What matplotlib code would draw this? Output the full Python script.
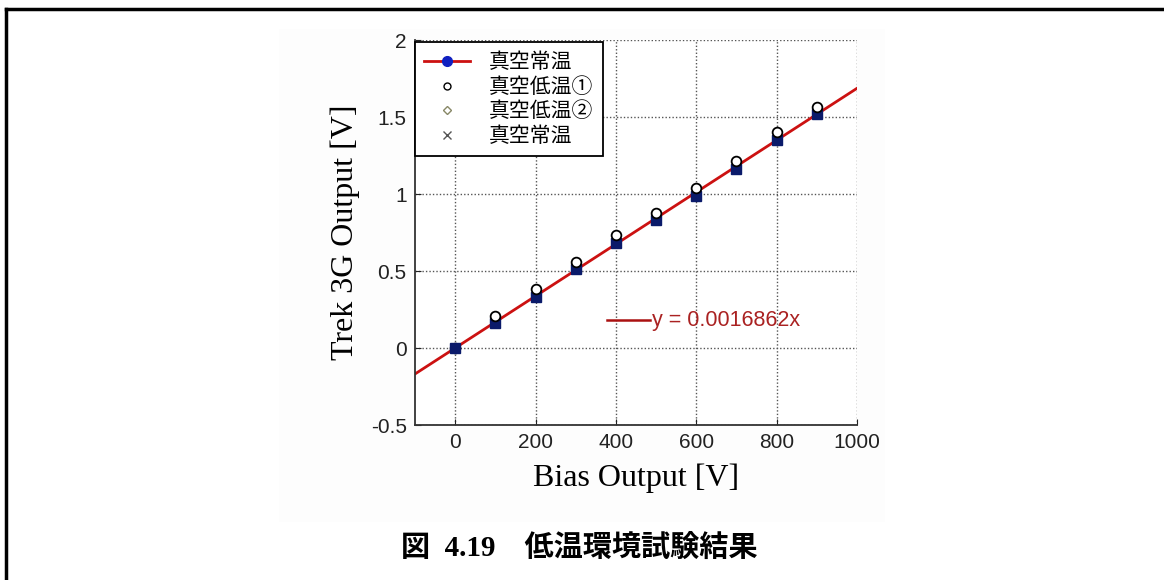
import numpy as np
import matplotlib.pyplot as plt
from matplotlib.lines import Line2D
from matplotlib.patches import Rectangle

plt.rcParams['font.family'] = ['Liberation Sans', 'Noto Sans CJK JP']

# bias setting [V]
bias = [0, 100, 200, 300, 400, 500, 600, 700, 800, 900]
# Trek 3G output [V]
room_vac = [0, 0.16, 0.33, 0.51, 0.68, 0.83, 0.99, 1.16, 1.35, 1.52]
cold_1 = [0, 0.205, 0.385, 0.56, 0.735, 0.88, 1.04, 1.215, 1.40, 1.565]
cold_2 = [0, 0.165, 0.335, 0.515, 0.685, 0.835, 0.99, 1.165, 1.355, 1.525]
room_vac_after = [0, 0.16, 0.33, 0.51, 0.685, 0.83, 0.99, 1.16, 1.35, 1.52]
slope = 0.0016862

fig = plt.figure(figsize=(11.64, 5.80), dpi=100)

# faint backdrop of the pasted plot
fig.patches.append(Rectangle((0.24, 0.10), 0.52, 0.85, transform=fig.transFigure,
                             facecolor='#fdfdfd', edgecolor='none', zorder=-5))
# page frame
fig.add_artist(Line2D([0.005, 1.0], [0.984, 0.984], color='black', lw=2.5))
fig.add_artist(Line2D([0.005, 0.005], [0.0, 0.984], color='black', lw=2.5))

ax = fig.add_axes([0.3565, 0.2672, 0.3797, 0.6638])
ax.set_facecolor('white')

xx = np.array([-100, 1000])
fit_line, = ax.plot(xx, slope * xx, color='#cc1111', lw=2, zorder=2)

ax.plot(bias, room_vac_after, 'x', color='#777777', ms=6, zorder=3)
ax.plot(bias, cold_2, 'D', mfc='white', mec='#888866', ms=4, zorder=3)
ax.plot(bias, room_vac, 's', color='#0a1a6a', ms=6.5, zorder=4)
ax.plot(bias[1:], cold_1[1:], 'o', mfc='white', mec='black', mew=1.3, ms=7, zorder=5)
ax.plot(bias[:1], cold_1[:1], 'o', mfc='white', mec='black', mew=1.3, ms=7, zorder=3.5)

ax.set_xlim(-100, 1000)
ax.set_ylim(-0.5, 2)
ax.set_xticks([0, 200, 400, 600, 800, 1000])
ax.set_yticks([-0.5, 0, 0.5, 1, 1.5, 2])
ax.set_yticklabels(['-0.5', '0', '0.5', '1', '1.5', '2'])
ax.tick_params(direction='in', labelsize=15, length=4, colors='#222222', pad=6)
ax.grid(True, color='#555555', ls=(0, (1, 1.5)), lw=1)
for s in ['top', 'right']:
    ax.spines[s].set_visible(False)
for s in ['left', 'bottom']:
    ax.spines[s].set_color('#333333')
    ax.spines[s].set_linewidth(1.3)

ax.set_xlabel('Bias Output [V]', family='Liberation Serif', fontsize=23, labelpad=8)
ax.set_ylabel('Trek 3G Output [V]', family='Liberation Serif', fontsize=23, labelpad=8)

handles = [
    Line2D([], [], color='#cc1111', lw=2, marker='o', mfc='#1020c0', mec='#1020c0', ms=7),
    Line2D([], [], ls='none', marker='o', mfc='white', mec='black', ms=5),
    Line2D([], [], ls='none', marker='D', mfc='white', mec='#888866', ms=4),
    Line2D([], [], ls='none', marker='x', color='#555555', ms=6),
]
labels = ['真空常温', '真空低温①', '真空低温②', '真空常温']
leg = ax.legend(handles, labels, loc='upper left', bbox_to_anchor=(0.0, 0.995),
                prop={'family': ['Noto Sans CJK JP'], 'size': 15},
                frameon=True, fancybox=False, framealpha=1, edgecolor='black',
                borderpad=0.45, labelspacing=0.12, handlelength=2.2,
                handletextpad=0.9, borderaxespad=0)
leg.get_frame().set_linewidth(1.3)

# fit label
ax.plot([378, 485], [0.18, 0.18], color='#aa1111', lw=1.8)
ax.text(490, 0.18, 'y = 0.0016862x', color='#aa2222', fontsize=15.5, va='center')

fig.text(0.498, 0.055, '図  4.19    低温環境試験結果', ha='center', va='center',
         family=['Liberation Serif', 'Noto Sans CJK JP'], fontweight='bold', fontsize=21)

fig.savefig('out.png', dpi=100)
